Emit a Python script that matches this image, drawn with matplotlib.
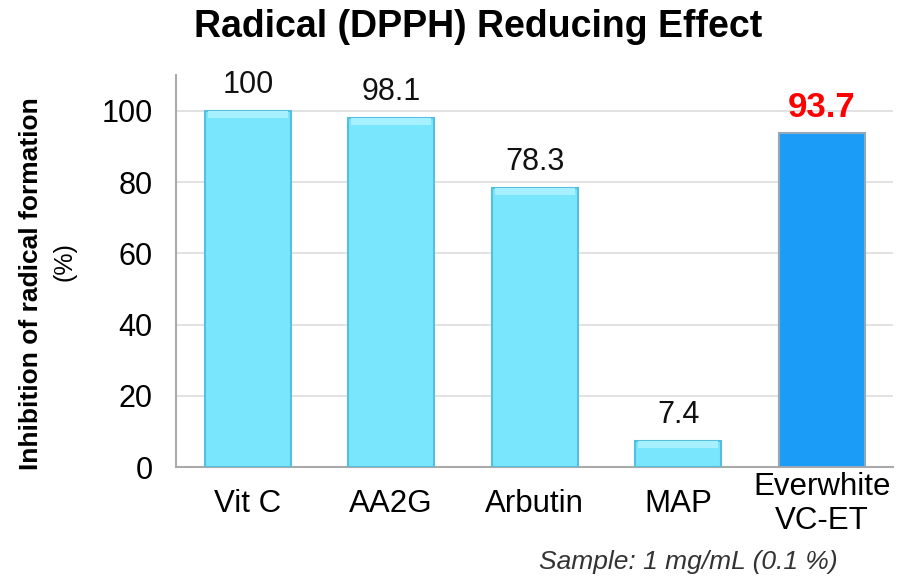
import matplotlib.pyplot as plt
import matplotlib.transforms as mtransforms

plt.rcParams['font.family'] = ['Liberation Sans', 'DejaVu Sans']

# data
categories = ['Vit C', 'AA2G', 'Arbutin', 'MAP', 'Everwhite\nVC-ET']
values = [100, 98.1, 78.3, 7.4, 93.7]
value_labels = ['100', '98.1', '78.3', '7.4', '93.7']
yticks = [0, 20, 40, 60, 80, 100]

light = '#7ae6fd'
dark = '#1a9cf7'
colors = [light, light, light, light, dark]
edges = ['#55bfe0', '#55bfe0', '#55bfe0', '#55bfe0', '#8fa9bb']

fig = plt.figure(figsize=(8.99, 5.78), dpi=100)
ax = fig.add_axes([0.1958, 0.192, 0.798, 0.678])

x = range(len(categories))
ax.bar(x, values, width=0.6, color=colors, edgecolor=edges, linewidth=1.5, zorder=3)
# lighter bevel strip along the top of the light bars
top = [min(v, 2.0) if i < 4 else 0 for i, v in enumerate(values)]
ax.bar(x, top, bottom=[v - t for v, t in zip(values, top)], width=0.56,
       color='#a6f0ff', linewidth=0, zorder=4)

for i, (v, lab) in enumerate(zip(values, value_labels)):
    if i == 4:
        ax.text(i, v + 2.5, lab, ha='center', va='bottom', fontsize=25,
                color='#ff0000', fontweight='bold')
    else:
        ax.text(i, v + 3, lab, ha='center', va='bottom', fontsize=22, color='#111111')

ax.set_xlim(-0.5, 4.5)
ax.set_ylim(0, 110)
ax.set_yticks(yticks)
ax.set_yticklabels([str(t) for t in yticks], fontsize=22)
ax.set_xticks(list(x))
ax.set_xticklabels([])
ax.tick_params(axis='x', length=0)
ax.tick_params(axis='y', length=0, pad=17)
ax.grid(axis='y', color='#dddddd', linewidth=1.2, zorder=0)

# category labels, centred vertically on one line below the axis
trans = mtransforms.blended_transform_factory(ax.transData, fig.transFigure)
for i, c in enumerate(categories):
    ax.text(i, 0.128, c, transform=trans, ha='center', va='center', fontsize=22.5,
            linespacing=1.2, clip_on=False)

for s in ['top', 'right']:
    ax.spines[s].set_visible(False)
ax.spines['left'].set_color('#aaaaaa')
ax.spines['bottom'].set_color('#aaaaaa')
ax.spines['left'].set_linewidth(1.5)
ax.spines['bottom'].set_linewidth(1.5)

fig.text(0.532, 0.953, 'Radical (DPPH) Reducing Effect', ha='center', va='center',
         fontsize=27, fontweight='bold')
fig.text(0.035, 0.51, 'Inhibition of radical formation', rotation=90, ha='center',
         va='center', fontsize=19, fontweight='bold')
fig.text(0.072, 0.547, '(%)', rotation=90, ha='center', va='center', fontsize=18)
fig.text(0.932, 0.028, 'Sample: 1 mg/mL (0.1 %)', ha='right', va='center',
         fontsize=19, style='italic', color='#333333')

fig.savefig('out.png', dpi=100)
